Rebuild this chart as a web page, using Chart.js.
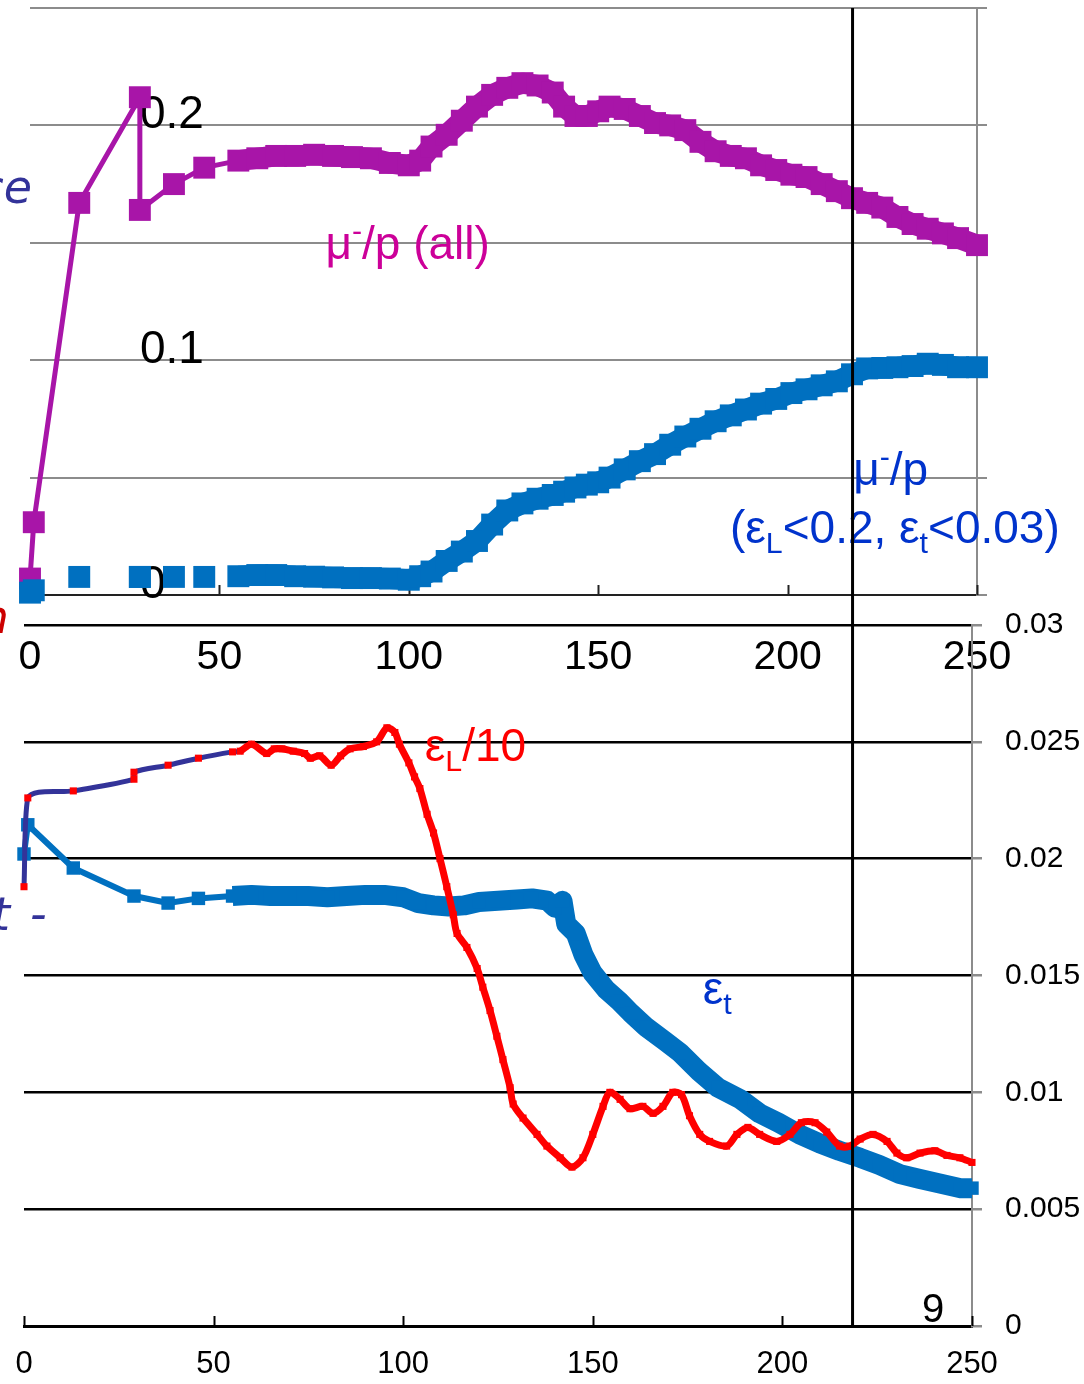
<!DOCTYPE html>
<html>
<head>
<meta charset="utf-8">
<script src="https://cdn.jsdelivr.net/npm/chart.js@4.4.0/dist/chart.umd.min.js"></script>
<style>
  html, body { margin: 0; padding: 0; background: #fff; }
  #wrap { position: relative; width: 1084px; height: 1384px; overflow: hidden; background: #fff; }
  canvas { position: absolute; left: 0; top: 0; }
</style>
</head>
<body>
<div id="wrap">
  <canvas id="topCanvas" width="1084" height="1384"></canvas>
  <canvas id="bottomCanvas" width="1084" height="1384"></canvas>
</div>
<script>
// ---- top panel: mu-/p ratio vs position ----
const energyTop = [0, 1, 13, 29, 29, 38, 46,
    55, 60, 65, 70, 75, 80, 85, 90, 95, 100,
    103, 106, 110, 114, 118, 122, 126, 130, 134, 138,
    141, 144, 147, 150, 153, 157, 161, 165, 169, 173,
    177, 181, 185, 189, 193, 197, 201, 205, 209, 213,
    217, 221, 225, 229, 233, 237, 241, 245, 250];

const muPall = [0.007, 0.031, 0.167, 0.212, 0.164, 0.175, 0.182,
    0.185, 0.186, 0.187, 0.187, 0.1875, 0.187, 0.1865, 0.186, 0.184, 0.183,
    0.185, 0.191, 0.196, 0.202, 0.208, 0.213, 0.216, 0.218, 0.217, 0.214,
    0.208, 0.204, 0.204, 0.206, 0.208, 0.207, 0.204, 0.201, 0.200, 0.198,
    0.193, 0.189, 0.187, 0.186, 0.183, 0.181, 0.179, 0.178, 0.175, 0.172,
    0.169, 0.167, 0.165, 0.161, 0.158, 0.156, 0.154, 0.152, 0.149];

const muPcut = [0.001, 0.002, 0.0077, 0.0077, 0.0077, 0.0077, 0.0077,
    0.008, 0.0085, 0.0085, 0.008, 0.0078, 0.0075, 0.0072, 0.0072, 0.007, 0.0065,
    0.008, 0.010, 0.0145, 0.0185, 0.023, 0.030, 0.036, 0.039, 0.041, 0.0426,
    0.044, 0.0458, 0.047, 0.048, 0.050, 0.0535, 0.057, 0.060, 0.064, 0.0675,
    0.0708, 0.074, 0.0765, 0.079, 0.0815, 0.0835, 0.086, 0.0876, 0.0893, 0.091,
    0.094, 0.0965, 0.0967, 0.097, 0.0975, 0.0985, 0.098, 0.097, 0.097];

// ---- bottom panel: emittances ----
const epsLX = [0, 1, 13, 29, 29, 38, 46, 55, 57, 60,
    64, 66, 68, 71, 74, 75.5, 78, 81, 83.5, 86,
    89.5, 93, 95.7, 97.8, 99, 101.5, 103, 104.4, 106.3, 108,
    109.7, 111.5, 113.2, 114.2, 116.8, 119.5, 121, 122.9, 124.7, 126.3,
    128.2, 129, 131.6, 135.3, 137.9, 141.4, 144.5, 147.4, 150, 152.7,
    154.5, 157.2, 159.8, 163.2, 165.9, 168.5, 171.1, 173.4, 175.5, 178.2,
    180.8, 185.3, 188, 190.9, 194, 198.5, 202, 205, 208.6, 211.7,
    215.1, 217.8, 220.5, 223.9, 227.6, 230.2, 232.8, 236.3, 240.2, 243.4,
    246.8, 250];

const epsL = [0.0188, 0.0226, 0.0229, 0.0234, 0.0237, 0.0240, 0.0243, 0.02457, 0.0246, 0.0249,
    0.0245, 0.0247, 0.0247, 0.0246, 0.0245, 0.0243, 0.0244, 0.0240, 0.0244, 0.0247,
    0.0248, 0.0250, 0.0256, 0.0254, 0.0249, 0.0241, 0.0235, 0.0230, 0.0219, 0.0211,
    0.0200, 0.0188, 0.0176, 0.0168, 0.0162, 0.0153, 0.0145, 0.0135, 0.0124, 0.0114,
    0.0102, 0.0095, 0.0089, 0.0082, 0.0077, 0.0072, 0.0068, 0.0072, 0.0082, 0.0094,
    0.0100, 0.0097, 0.0093, 0.0094, 0.0091, 0.0094, 0.0100, 0.0099, 0.0090, 0.0082,
    0.0079, 0.0077, 0.0082, 0.0085, 0.0082, 0.0079, 0.0082, 0.0087, 0.0087, 0.0083,
    0.0077, 0.0077, 0.0080, 0.0082, 0.0079, 0.0074, 0.0072, 0.0074, 0.0075, 0.0073,
    0.0072, 0.0070];

const epsTX = [0, 1, 13, 29, 38, 46, 55, 60, 65, 70,
    75, 80, 85, 90, 95, 100, 104, 108, 112, 116,
    120, 125, 130, 134, 138, 140, 142, 143, 145.5, 147.5,
    150, 153.5, 157, 160, 164, 169, 173, 178, 183, 189,
    194, 199, 204.5, 210, 215, 220.5, 225.5, 231, 236, 241.5,
    247, 250];

const epsT = [0.0202, 0.02145, 0.0196, 0.0184, 0.0181, 0.0183, 0.0184, 0.01845, 0.0184, 0.0184,
    0.0184, 0.01835, 0.0184, 0.01845, 0.01845, 0.01835, 0.0181, 0.0180, 0.01795, 0.0180,
    0.01815, 0.0182, 0.01825, 0.0183, 0.0182, 0.0179, 0.0182, 0.0172, 0.0168, 0.0159,
    0.0151, 0.0144, 0.0139, 0.0134, 0.0128, 0.0122, 0.0117, 0.0109, 0.0102, 0.0097,
    0.0091, 0.0087, 0.0082, 0.0078, 0.0075, 0.0072, 0.0069, 0.0065, 0.0063, 0.0061,
    0.0059, 0.0059];

const cutEnergy = 218.5;   // vertical marker line
const denseFrom = 55;      // where the scan becomes continuous

const FONT = '"Liberation Sans", Arial, sans-serif';
Chart.defaults.font.family = FONT;
Chart.defaults.color = '#000';

const MAGENTA = '#A815A8';
const BLUE = '#0070C0';
const TEXTBLUE = '#0033CC';
const NAVY = '#333399';
const RED = '#FF0000';

function xy(xs, ys) {
    return xs.map((x, i) => ({ x: x, y: ys[i] }));
}

function zeroPad(s) {
    s.paddingTop = 0; s.paddingBottom = 0; s.paddingLeft = 0; s.paddingRight = 0;
}

function richText(ctx, runs, x, y, size, color) {
    ctx.save();
    ctx.fillStyle = color;
    ctx.textBaseline = 'alphabetic';
    ctx.textAlign = 'left';
    let cx = x;
    runs.forEach(r => {
        const s = (r.sub || r.sup) ? size * 0.66 : size;
        ctx.font = s + 'px ' + FONT;
        const dy = r.sub ? size * 0.22 : (r.sup ? -size * 0.40 : 0);
        ctx.fillText(r.t, cx, y + dy);
        cx += ctx.measureText(r.t).width;
    });
    ctx.restore();
}

// small tick marks pointing up into the plot
const innerTicks = {
    id: 'innerTicks',
    beforeDatasetsDraw(chart, args, opts) {
        const ctx = chart.ctx;
        const x = chart.scales.x;
        const bottom = chart.chartArea.bottom;
        ctx.save();
        ctx.strokeStyle = opts.color;
        ctx.lineWidth = opts.width;
        x.ticks.forEach(t => {
            const px = Math.round(x.getPixelForValue(t.value)) + 0.5;
            ctx.beginPath();
            ctx.moveTo(px, bottom);
            ctx.lineTo(px, bottom - opts.length);
            ctx.stroke();
        });
        ctx.restore();
    }
};

// text labels placed in data coordinates
const notes = {
    id: 'notes',
    afterDraw(chart, args, opts) {
        const ctx = chart.ctx;
        const xs = chart.scales.x;
        const ys = chart.scales[opts.yAxis];
        opts.items.forEach(n => {
            richText(ctx, n.runs, xs.getPixelForValue(n.x), ys.getPixelForValue(n.y), n.size, n.color);
        });
    }
};

const topChart = new Chart(document.getElementById('topCanvas'), {
    type: 'line',
    data: {
        datasets: [{
            label: 'mu-/p (cut)',
            data: xy(energyTop, muPcut),
            yAxisID: 'y',
            borderColor: BLUE,
            borderWidth: 21,
            borderJoinStyle: 'round',
            segment: {
                borderColor: c => c.p0.parsed.x >= denseFrom ? BLUE : 'rgba(0,0,0,0)'
            },
            pointStyle: 'rect',
            pointRadius: 15.5,
            pointBackgroundColor: BLUE,
            pointBorderWidth: 0,
            tension: 0,
            clip: false
        }, {
            label: 'mu-/p (all)',
            data: xy(energyTop, muPall),
            yAxisID: 'y',
            borderColor: MAGENTA,
            borderWidth: 5,
            borderJoinStyle: 'round',
            segment: {
                borderWidth: c => c.p0.parsed.x >= denseFrom ? 21 : 5
            },
            pointStyle: 'rect',
            pointRadius: 15.5,
            pointBackgroundColor: MAGENTA,
            pointBorderWidth: 0,
            tension: 0,
            clip: false
        }]
    },
    options: {
        responsive: false,
        animation: false,
        devicePixelRatio: 1,
        layout: { autoPadding: false, padding: { left: 30, right: 87, top: 8, bottom: 689 } },
        plugins: {
            legend: { display: false },
            tooltip: { enabled: false },
            innerTicks: { color: '#222', width: 2, length: 10 },
            notes: {
                yAxis: 'y',
                items: [
                    { x: 78, y: 0.143, size: 46, color: '#CC0099',
                      runs: [{ t: 'μ' }, { t: '-', sup: true }, { t: '/p (all)' }] },
                    { x: 217.3, y: 0.0468, size: 46, color: TEXTBLUE,
                      runs: [{ t: 'μ' }, { t: '-', sup: true }, { t: '/p' }] },
                    { x: 184.8, y: 0.0221, size: 46, color: TEXTBLUE,
                      runs: [{ t: '(ε' }, { t: 'L', sub: true }, { t: '<0.2, ε' }, { t: 't', sub: true }, { t: '<0.03)' }] }
                ]
            }
        },
        scales: {
            x: {
                type: 'linear', min: 0, max: 250, position: 'bottom',
                ticks: { stepSize: 50, padding: 38, font: { size: 41 }, color: '#000' },
                grid: { display: false, drawTicks: false },
                border: { display: true, color: '#222', width: 2, dash: [2, 1] },
                afterFit: s => { s.height = 100; zeroPad(s); }
            },
            y: {
                type: 'linear', min: 0, max: 0.25, position: 'left', z: 1,
                ticks: {
                    stepSize: 0.05, mirror: true, padding: 110, labelOffset: -10,
                    font: { size: 46 }, color: '#000',
                    callback: v => {
                        const r = Math.round(v * 100);
                        return r % 10 === 0 ? String(r / 100) : '';
                    }
                },
                grid: { display: false },
                border: { display: false },
                afterFit: s => { s.width = 0; zeroPad(s); }
            },
            yr: {
                type: 'linear', min: 0, max: 0.25, position: 'right',
                ticks: { display: false, stepSize: 0.05 },
                grid: { color: '#8c8c8c', lineWidth: 2, tickLength: 10, tickColor: '#8c8c8c' },
                border: { color: '#8c8c8c', width: 2 },
                afterFit: s => { s.width = 20; zeroPad(s); }
            }
        }
    },
    plugins: [innerTicks, notes]
});

// vertical cut line through both panels + clipped edge texts
const cutLine = {
    id: 'cutLine',
    afterDraw(chart) {
        const ctx = chart.ctx;
        const px = chart.scales.x.getPixelForValue(cutEnergy);
        ctx.save();
        ctx.strokeStyle = '#000';
        ctx.lineWidth = 3;
        ctx.beginPath();
        ctx.moveTo(px, topChart.chartArea.top);
        ctx.lineTo(px, chart.chartArea.bottom);
        ctx.stroke();

        ctx.textBaseline = 'alphabetic';
        ctx.textAlign = 'right';
        ctx.fillStyle = NAVY;
        ctx.font = 'italic 46px "DejaVu Sans", sans-serif';
        ctx.fillText('ce', 32, 203);
        ctx.fillText('t', 10, 930);
        ctx.textAlign = 'left';
        ctx.fillText('-', 30, 930);
        ctx.fillStyle = '#CC0000';
        ctx.textAlign = 'right';
        ctx.fillText('n', 9, 633);
        ctx.restore();
    }
};

const bottomChart = new Chart(document.getElementById('bottomCanvas'), {
    type: 'line',
    data: {
        datasets: [{
            label: 'epsL/10',
            data: xy(epsLX, epsL),
            borderColor: NAVY,
            borderWidth: 5,
            segment: {
                borderColor: c => c.p0.parsed.x >= denseFrom + 2 ? RED : NAVY,
                borderWidth: c => c.p0.parsed.x >= denseFrom + 2 ? 7 : 5
            },
            pointStyle: 'rect',
            pointRadius: 5,
            pointBackgroundColor: RED,
            pointBorderWidth: 0,
            tension: 0.3,
            clip: false
        }, {
            label: 'epst',
            data: xy(epsTX, epsT),
            borderColor: BLUE,
            borderWidth: 6,
            borderJoinStyle: 'round',
            segment: {
                borderWidth: c => c.p0.parsed.x >= denseFrom ? 20 : 6
            },
            pointStyle: 'rect',
            pointRadius: 9.5,
            pointBackgroundColor: BLUE,
            pointBorderWidth: 0,
            tension: 0,
            clip: false
        }]
    },
    options: {
        responsive: false,
        animation: false,
        devicePixelRatio: 1,
        layout: { autoPadding: false, padding: { left: 24, right: 0, top: 625, bottom: 8 } },
        plugins: {
            legend: { display: false },
            tooltip: { enabled: false },
            innerTicks: { color: '#000', width: 2, length: 10 },
            notes: {
                yAxis: 'y',
                items: [
                    { x: 105.7, y: 0.02419, size: 46, color: RED,
                      runs: [{ t: 'ε' }, { t: 'L', sub: true }, { t: '/10' }] },
                    { x: 179, y: 0.0138, size: 46, color: TEXTBLUE,
                      runs: [{ t: 'ε' }, { t: 't', sub: true }] },
                    { x: 236.8, y: 0.00017, size: 40, color: '#000',
                      runs: [{ t: '9' }] }
                ]
            }
        },
        scales: {
            x: {
                type: 'linear', min: 0, max: 250, position: 'bottom',
                ticks: { stepSize: 50, padding: 20, font: { size: 31 }, color: '#000' },
                grid: { display: false, drawTicks: false },
                border: { display: true, color: '#000', width: 3 },
                afterFit: s => { s.height = 50; zeroPad(s); }
            },
            y: {
                type: 'linear', min: 0, max: 0.03, position: 'right',
                ticks: {
                    stepSize: 0.005, padding: 23, font: { size: 30 }, color: '#000',
                    callback: v => String(+v.toFixed(3))
                },
                grid: { color: '#000', lineWidth: 2.5, tickLength: 10, tickColor: '#8c8c8c' },
                border: { color: '#8c8c8c', width: 2 },
                afterFit: s => { s.width = 112; zeroPad(s); }
            }
        }
    },
    plugins: [innerTicks, notes, cutLine]
});
</script>
</body>
</html>
